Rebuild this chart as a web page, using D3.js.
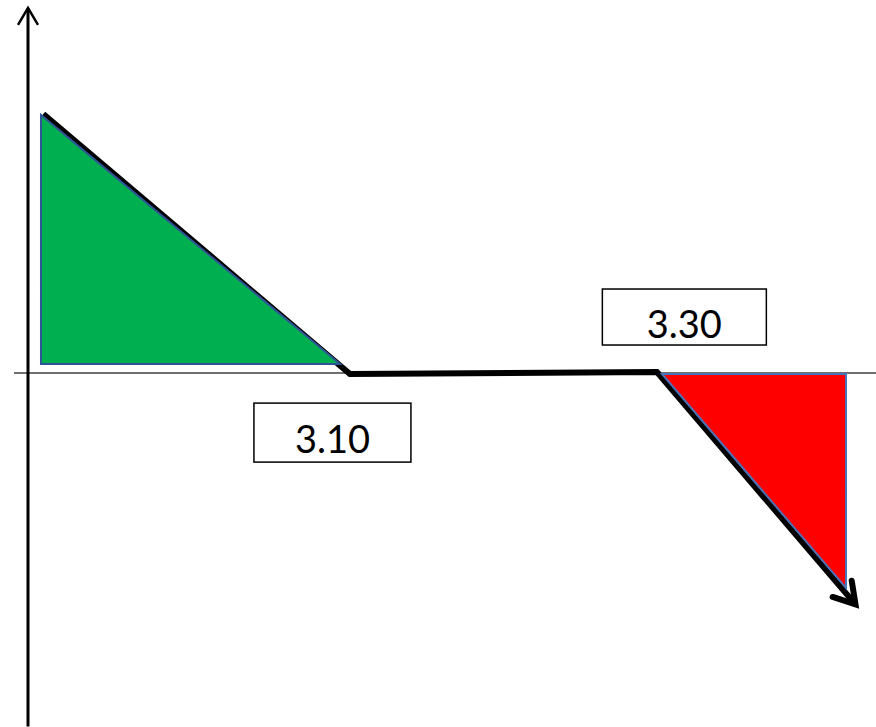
<!DOCTYPE html>
<html>
<head>
<meta charset="utf-8">
<script src="https://cdn.jsdelivr.net/npm/d3@7"></script>
<style>
html,body{margin:0;padding:0;background:#fff;}
svg{display:block;}
</style>
</head>
<body>
<svg id="chart" width="876" height="727"></svg>
<script>
// ---- data (abstract diagram units) ----
const priceX = [1.8, 37.97, 74.17, 97.35];
const priceY = [100.4, -0.39, 0.39, -88.8];
const gainX = [1.53, 1.53, 36.8];
const gainY = [100, 3.49, 3.49];
const lossX = [74.76, 96.46, 96.46];
const lossY = [-0.39, -0.39, -83.3];
const labelText = ["3.10", "3.30"];
const labelX = [35.9, 77.4];
const labelY = [-23.1, 21.7];
const yAxisRange = [-137, 141.5];
const xAxisRange = [-1.65, 100];

const svg = d3.select("#chart");
const x = d3.scaleLinear().domain([0, 100]).range([28, 876]);
const y = d3.scaleLinear().domain([-100, 100]).range([631, 115]);

// horizontal axis
svg.append("line")
  .attr("x1", x(xAxisRange[0])).attr("x2", x(xAxisRange[1]))
  .attr("y1", y(0)).attr("y2", y(0))
  .attr("stroke", "#404040").attr("stroke-width", 1.5);

// vertical axis with open arrowhead
svg.append("line")
  .attr("x1", x(0)).attr("x2", x(0))
  .attr("y1", y(yAxisRange[0])).attr("y2", y(yAxisRange[1]))
  .attr("stroke", "#000").attr("stroke-width", 3);
svg.append("path")
  .attr("d", `M${x(0)-10},${y(yAxisRange[1])+17} L${x(0)},${y(yAxisRange[1])} L${x(0)+10},${y(yAxisRange[1])+17}`)
  .attr("fill", "none").attr("stroke", "#000").attr("stroke-width", 2.5);

// thick price path
const pts = priceX.map((d, i) => [x(d), y(priceY[i])]);
svg.append("path")
  .attr("d", d3.line()(pts))
  .attr("fill", "none").attr("stroke", "#000").attr("stroke-width", 6)
  .attr("stroke-linejoin", "miter");

// arrowhead at end of price path
const a = pts[pts.length - 2], b = pts[pts.length - 1];
const ang = Math.atan2(b[1] - a[1], b[0] - a[0]);
const tip = [b[0] + 3 * Math.cos(ang), b[1] + 3 * Math.sin(ang)];
const L = 24, spread = 0.55;
const w1 = [tip[0] - L * Math.cos(ang - spread), tip[1] - L * Math.sin(ang - spread)];
const w2 = [tip[0] - L * Math.cos(ang + spread), tip[1] - L * Math.sin(ang + spread)];
svg.append("path")
  .attr("d", `M${w1[0]},${w1[1]} L${tip[0]},${tip[1]} L${w2[0]},${w2[1]}`)
  .attr("fill", "none").attr("stroke", "#000").attr("stroke-width", 6)
  .attr("stroke-linecap", "round").attr("stroke-linejoin", "miter");

// triangles
const tri = (xs, ys) => d3.line()(xs.map((d, i) => [x(d), y(ys[i])])) + "Z";
svg.append("path").attr("d", tri(gainX, gainY))
  .attr("fill", "#00b050").attr("stroke", "#2f5597").attr("stroke-width", 2);
svg.append("path").attr("d", tri(lossX, lossY))
  .attr("fill", "#ff0000").attr("stroke", "#4a72b8").attr("stroke-width", 2);

// label boxes
const boxW = [157, 164], boxH = [59, 56];
labelText.forEach((t, i) => {
  const cx = x(labelX[i]), cy = y(labelY[i]);
  svg.append("rect")
    .attr("x", cx - boxW[i] / 2).attr("y", cy - boxH[i] / 2)
    .attr("width", boxW[i]).attr("height", boxH[i])
    .attr("fill", "#fff").attr("stroke", "#000").attr("stroke-width", 1.5);
  svg.append("text")
    .attr("x", cx).attr("y", cy + 20.5)
    .attr("text-anchor", "middle")
    .attr("font-family", "Lato, 'Open Sans', sans-serif")
    .attr("font-size", 38)
    .attr("fill", "#000")
    .text(t);
});
</script>
</body>
</html>
